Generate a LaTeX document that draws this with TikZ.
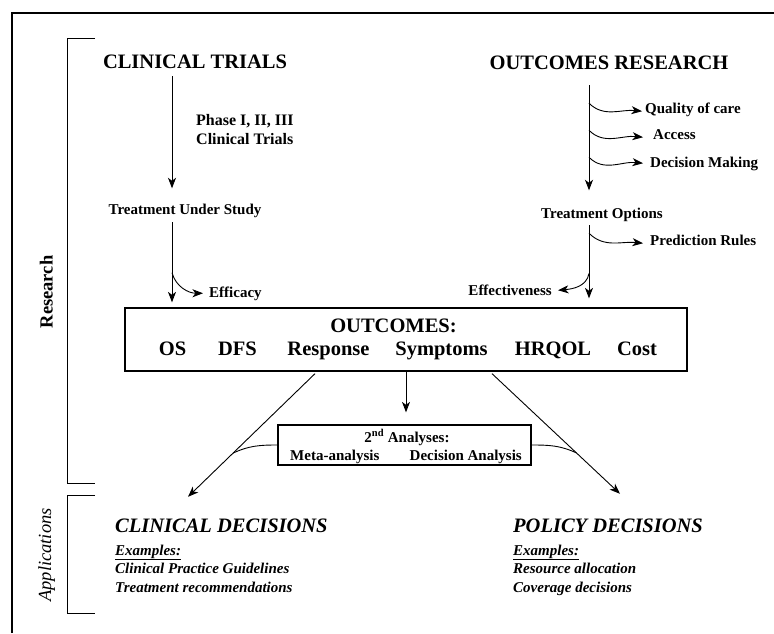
\documentclass[tikz,border=0pt]{standalone}
\usepackage{fontspec}
\setmainfont{Liberation Serif}
\usetikzlibrary{arrows.meta,calc}
\begin{document}
\begin{tikzpicture}[x=1pt,y=1pt,
  big/.style={font=\fontsize{20.5}{24}\selectfont\bfseries, inner sep=0pt, text height=14pt, text depth=0pt},
  bigit/.style={font=\fontsize{20.5}{24}\selectfont\bfseries\itshape, inner sep=0pt, text height=14pt, text depth=0pt},
  med/.style={font=\fontsize{15}{18}\selectfont\bfseries, inner sep=0pt, text height=10.5pt, text depth=3pt},
  ex/.style={font=\fontsize{15}{18}\selectfont\bfseries\itshape, inner sep=0pt, anchor=base west},
  arr/.style={-{Stealth[length=10.5pt,width=8pt,inset=3pt]}, line width=0.9pt},
  plain/.style={line width=0.9pt},
  brk/.style={line width=1pt},
  boxst/.style={draw, line width=1.3pt, inner sep=0pt}
]
\fill[white] (0,0) rectangle (774,-633);
\useasboundingbox (0,0) rectangle (774,-633);
% outer frame
\draw[line width=2pt] (11.5,-633) -- (11.5,-12.5) -- (774,-12.5);

% brackets and side labels
\draw[brk] (95,-38) -- (67,-38) -- (67,-483) -- (95,-483);
\draw[brk] (95,-495) -- (67,-495) -- (67,-613) -- (95,-613);
\node[font=\fontsize{18.5}{22}\selectfont\bfseries, rotate=90, anchor=base, inner sep=0pt] (res) at (52.5,-292) {Research};
\node[font=\fontsize{18.5}{22}\selectfont\itshape, rotate=90, anchor=base, inner sep=0pt] (app) at (51,-555) {Applications};

% left column
\node[big, anchor=base] (ct) at (195,-68) {CLINICAL TRIALS};
\node[font=\fontsize{16}{19}\selectfont\bfseries, align=left, anchor=north west, inner sep=0pt] (ph) at (196,-114) {Phase I, II, III\\Clinical Trials};
\node[med, anchor=base] (tus) at (185,-214) {Treatment Under Study};
\node[med, anchor=base west] (eff) at (209,-297) {Efficacy};

% right column
\node[big, anchor=base] (or) at (609,-69) {OUTCOMES RESEARCH};
\node[med, anchor=base west] (q) at (645,-113) {Quality of care};
\node[med, anchor=base west] (acc) at (653,-139) {Access};
\node[med, anchor=base west] (dm) at (650,-167) {Decision Making};
\node[med, anchor=base] (to) at (602,-218) {Treatment Options};
\node[med, anchor=base west] (pr) at (650,-245) {Prediction Rules};
\node[med, anchor=base east] (eff2) at (552,-295) {Effectiveness};

% outcomes box
\node[boxst, minimum width=562pt, minimum height=63pt] (ob) at (406,-339.5) {};
\node[big, anchor=base] (oh) at (393.5,-332) {OUTCOMES:};
\node[big, anchor=base] (os) at (172.5,-355) {OS};
\node[big, anchor=base] (dfs) at (237.5,-355) {DFS};
\node[big, anchor=base] (resp) at (328.5,-355) {Response};
\node[big, anchor=base] (sym) at (441.5,-355) {Symptoms};
\node[big, anchor=base] (hrq) at (553,-355) {HRQOL};
\node[big, anchor=base] (cost) at (637,-355) {Cost};

% secondary analyses box
\node[boxst, minimum width=253pt, minimum height=40pt] (sb) at (404.5,-445) {};
\node[med, anchor=base] (sh) at (407,-442) {2\textsuperscript{nd} Analyses:};
\node[med, anchor=base west] (ma) at (290,-460) {Meta-analysis};
\node[med, anchor=base east] (da) at (522,-460) {Decision Analysis};

% decisions
\node[bigit, anchor=base west] (cd) at (115,-532) {CLINICAL DECISIONS};
\node[ex] (cex) at (115,-555) {\underline{Examples:}};
\node[ex] (cpg) at (115,-573) {Clinical Practice Guidelines};
\node[ex] (trc) at (115,-592) {Treatment recommendations};
\node[bigit, anchor=base west] (pd) at (513,-532) {POLICY DECISIONS};
\node[ex] (pex) at (513,-555) {\underline{Examples:}};
\node[ex] (ra) at (513,-573) {Resource allocation};
\node[ex] (cov) at (513,-592) {Coverage decisions};

% connectors, left column
\coordinate (xL) at (172,0);
\coordinate (xR) at (589,0);
\draw[arr] ($(ct.south -| xL)+(0,-8)$) -- ($(tus.north -| xL)+(0,15)$);
\draw[arr] ($(tus.south -| xL)+(0,-5)$) -- coordinate[pos=0.63] (effsrc) ($(ob.north -| xL)+(0,5)$);
\draw[arr] (effsrc) to[out=-75,in=180] ($(eff.west)+(-6,0)$);

% connectors, right column
\draw[arr] ($(or.south -| xR)+(0,-16)$) -- coordinate[pos=0.171] (qs) coordinate[pos=0.429] (as) coordinate[pos=0.686] (ds) ($(to.north -| xR)+(0,17)$);
\draw[arr] (qs) to[out=-45,in=174] ($(q.west)+(-3,-2)$);
\draw[arr] (as) to[out=-45,in=174] ($(acc.west)+(-10,-2)$);
\draw[arr] (ds) to[out=-45,in=174] ($(dm.west)+(-7,0)$);
\draw[arr] ($(to.south -| xR)+(0,-4)$) -- coordinate[pos=0.11] (ps) coordinate[pos=0.66] (es) ($(ob.north -| xR)+(0,9)$);
\draw[arr] (ps) to[out=-45,in=174] ($(pr.west)+(-7,-2)$);
\draw[arr] (es) to[out=-100,in=5] ($(eff2.east)+(6,1)$);

% from outcomes box
\draw[arr] (ob.south) -- ($(ob.south |- sb.north)+(0,12)$);
\draw[arr] ($(ob.south)+(-91,-2)$) -- coordinate[pos=0.645] (jl) ($(cd.north west)+(73,21)$);
\draw[arr] ($(ob.south)+(86,-2)$) -- coordinate[pos=0.66] (jr) ($(pd.north west)+(107,24)$);
\draw[plain] (sb.west) to[out=180,in=25] (jl);
\draw[plain] (sb.east) to[out=0,in=155] (jr);
\end{tikzpicture}
\end{document}
